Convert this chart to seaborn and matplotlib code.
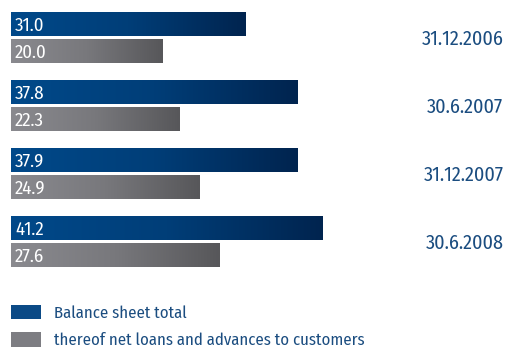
import numpy as np
import pandas as pd
import matplotlib
matplotlib.use("Agg")
import matplotlib.pyplot as plt
import seaborn as sns
from matplotlib.patches import Patch
from matplotlib.colors import LinearSegmentedColormap

dates = ["31.12.2006", "30.6.2007", "31.12.2007", "30.6.2008"]
balance_total = [31.0, 37.8, 37.9, 41.2]
net_loans = [20.0, 22.3, 24.9, 27.6]
series_names = ["Balance sheet total", "thereof net loans and advances to customers"]

sns.set_theme(style="white")
plt.rcParams["font.family"] = ["Fira Sans Condensed", "DejaVu Sans"]

df = pd.DataFrame({
    "date": dates * 2,
    "value": balance_total + net_loans,
    "series": [series_names[0]] * 4 + [series_names[1]] * 4,
})

W, H = 507, 349
fig = plt.figure(figsize=(W / 100, H / 100), dpi=100)
ax = fig.add_axes([0, 0, 1, 1])

blue_solid = "#0b4a86"
gray_solid = "#7d7d82"
sns.barplot(data=df, y="date", x="value", hue="series", orient="h",
            palette=[blue_solid, gray_solid], width=0.79, gap=0.11,
            ax=ax, legend=False, saturation=1)

px_per_unit = 7.57
x0_px = 11
xlim = (-x0_px / px_per_unit, (W - x0_px) / px_per_unit)
grp_px = 68.0
c0_px = 37.3
ylim = ((H - c0_px) / grp_px, -c0_px / grp_px)

cmaps = [
    LinearSegmentedColormap.from_list("b", ["#00498a", "#003e78", "#00244f"]),
    LinearSegmentedColormap.from_list("g", ["#8a8a8f", "#78787c", "#57575a"]),
]
grad = np.linspace(0, 1, 256).reshape(1, -1)
text_color = "#1b4d80"
fs_val = 13.5
fs_date = 14.5
fs_leg = 12

patches = list(ax.patches)
for i, p in enumerate(patches):
    s = i // 4
    x, y, w, h = p.get_x(), p.get_y(), p.get_width(), p.get_height()
    if w <= 0:
        continue
    p.set_facecolor("none")
    p.set_edgecolor("none")
    ax.imshow(grad, cmap=cmaps[s], extent=[x, x + w, y + h, y], aspect="auto",
              interpolation="bicubic", zorder=2)
    ax.annotate(f"{w:.1f}", xy=(0, y + h / 2), xytext=(3, 0),
                textcoords="offset points", ha="left", va="center_baseline",
                color="white", fontsize=fs_val, zorder=3)

for i, d in enumerate(dates):
    ax.text(0.993, i, d, transform=ax.get_yaxis_transform(), ha="right",
            va="center_baseline", color=text_color, fontsize=fs_date)

ax.set_xlim(*xlim)
ax.set_ylim(*ylim)
ax.axis("off")

handles = [Patch(facecolor=blue_solid, edgecolor="none"),
           Patch(facecolor=gray_solid, edgecolor="none")]
leg = fig.legend(handles, series_names, loc="upper left",
                 bbox_to_anchor=(11 / W, 1 - 305 / H), frameon=False,
                 fontsize=fs_leg, handlelength=1.8, handleheight=0.96,
                 handletextpad=0.78, labelspacing=0.65, borderpad=0,
                 borderaxespad=0)
for t in leg.get_texts():
    t.set_color(text_color)

fig.savefig("out.png", dpi=100)
